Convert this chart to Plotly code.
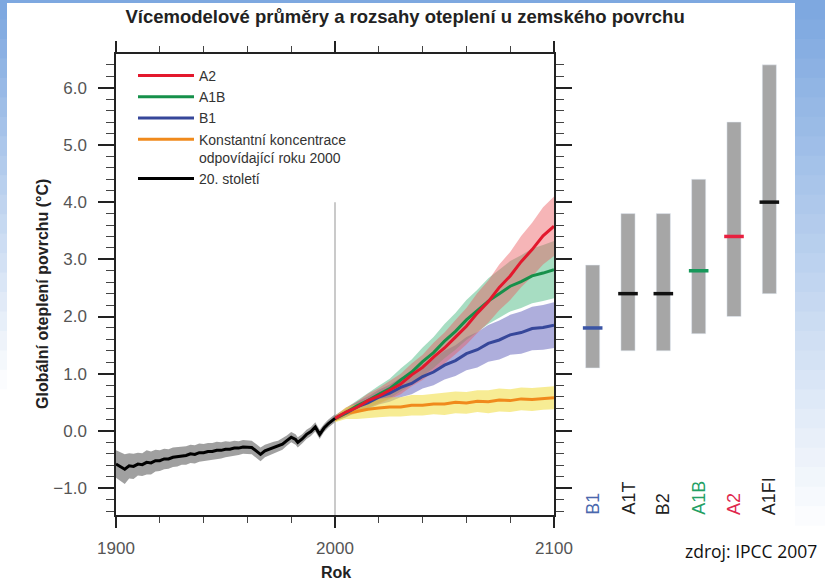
import plotly.graph_objects as go

# ---- data -------------------------------------------------------------
HIST_YEARS = [1900, 1902, 1904, 1906, 1908, 1910, 1912, 1914, 1916, 1918,
              1920, 1922, 1924, 1926, 1928, 1930, 1932, 1934, 1936, 1938,
              1940, 1942, 1944, 1946, 1948, 1950, 1952, 1954, 1956, 1958,
              1960, 1962, 1964, 1966, 1968, 1970, 1972, 1974, 1976, 1978,
              1980, 1982, 1983, 1985, 1987, 1989, 1991, 1993, 1995, 1997,
              1999, 2000]
HIST_MEAN = [-0.58, -0.63, -0.67, -0.61, -0.62, -0.58, -0.59, -0.55, -0.56, -0.52,
             -0.52, -0.49, -0.49, -0.46, -0.45, -0.43, -0.43, -0.40, -0.41, -0.38,
             -0.38, -0.36, -0.36, -0.34, -0.34, -0.32, -0.32, -0.30, -0.30, -0.28,
             -0.28, -0.29, -0.35, -0.41, -0.35, -0.32, -0.29, -0.27, -0.23, -0.17,
             -0.11, -0.15, -0.20, -0.14, -0.06, -0.01, 0.07, -0.06, 0.05, 0.13,
             0.19, 0.22]
HIST_SPREAD = [0.24, 0.25, 0.26, 0.22, 0.22, 0.20, 0.20, 0.21, 0.20, 0.19,
               0.18, 0.18, 0.17, 0.17, 0.17, 0.16, 0.16, 0.16, 0.16, 0.16,
               0.15, 0.15, 0.15, 0.15, 0.14, 0.14, 0.13, 0.13, 0.12, 0.12,
               0.12, 0.12, 0.12, 0.12, 0.11, 0.11, 0.10, 0.10, 0.10, 0.09,
               0.09, 0.09, 0.09, 0.08, 0.08, 0.08, 0.08, 0.08, 0.07, 0.07,
               0.07, 0.07]

FUT_YEARS = [2000, 2005, 2010, 2015, 2020, 2025, 2030, 2035, 2040, 2045, 2050,
             2055, 2060, 2065, 2070, 2075, 2080, 2085, 2090, 2095, 2100]
A2_MEAN = [0.22, 0.33, 0.41, 0.53, 0.61, 0.71, 0.82, 0.98, 1.11, 1.29, 1.45,
           1.64, 1.83, 2.06, 2.26, 2.51, 2.71, 2.96, 3.17, 3.41, 3.58]
A2_SPREAD = [0.05, 0.08, 0.10, 0.12, 0.14, 0.16, 0.18, 0.20, 0.22, 0.25, 0.27,
             0.30, 0.32, 0.35, 0.37, 0.40, 0.42, 0.45, 0.47, 0.50, 0.52]
A1B_MEAN = [0.22, 0.32, 0.44, 0.53, 0.64, 0.74, 0.89, 1.03, 1.21, 1.37, 1.57,
            1.74, 1.94, 2.10, 2.27, 2.40, 2.53, 2.61, 2.71, 2.76, 2.82]
A1B_SPREAD = [0.05, 0.08, 0.10, 0.13, 0.15, 0.17, 0.20, 0.22, 0.25, 0.27, 0.30,
              0.32, 0.35, 0.37, 0.40, 0.42, 0.44, 0.46, 0.48, 0.49, 0.50]
B1_MEAN = [0.22, 0.31, 0.42, 0.49, 0.59, 0.66, 0.76, 0.83, 0.95, 1.03, 1.15,
           1.23, 1.35, 1.42, 1.53, 1.59, 1.68, 1.72, 1.79, 1.81, 1.85]
B1_SPREAD = [0.05, 0.07, 0.09, 0.11, 0.13, 0.15, 0.17, 0.19, 0.21, 0.23, 0.25,
             0.27, 0.29, 0.31, 0.32, 0.34, 0.35, 0.37, 0.38, 0.39, 0.40]
CONST_MEAN = [0.20, 0.31, 0.34, 0.38, 0.40, 0.42, 0.42, 0.45, 0.45, 0.47, 0.47,
              0.50, 0.49, 0.52, 0.51, 0.54, 0.53, 0.56, 0.55, 0.57, 0.58]
CONST_SPREAD = [0.05, 0.10, 0.13, 0.15, 0.16, 0.17, 0.17, 0.18, 0.18, 0.18, 0.19,
                0.19, 0.19, 0.19, 0.20, 0.20, 0.20, 0.20, 0.20, 0.20, 0.20]

SCENARIOS = ["B1", "A1T", "B2", "A1B", "A2", "A1FI"]
BEST = [1.8, 2.4, 2.4, 2.8, 3.4, 4.0]
LOW = [1.1, 1.4, 1.4, 1.7, 2.0, 2.4]
HIGH = [2.9, 3.8, 3.8, 4.4, 5.4, 6.4]
SCEN_COLORS = ["#3b55a5", "#111111", "#111111", "#17985a", "#e8203f", "#111111"]
LABEL_COLORS = ["#4a68ad", "#222222", "#222222", "#23a064", "#e0284e", "#222222"]

# ---- layout geometry (px) ---------------------------------------------
W, H = 825, 584
L, R, T, B = 116, 38, 54, 69
PW, PH = W - L - R, H - T - B


def xp(px):
    return (px - L) / PW


def yp(py):
    return (H - B - py) / PH


FONT = "Liberation Sans, Arial, sans-serif"
RED, GREEN, BLUE, ORANGE = "#e3182d", "#16904a", "#36479a", "#f08a1c"

fig = go.Figure()


def band(x, mean, spread, color):
    lo = [m - s for m, s in zip(mean, spread)]
    hi = [m + s for m, s in zip(mean, spread)]
    fig.add_trace(go.Scatter(x=x, y=lo, mode="lines", line=dict(width=0),
                             showlegend=False, hoverinfo="skip"))
    fig.add_trace(go.Scatter(x=x, y=hi, mode="lines", line=dict(width=0),
                             fill="tonexty", fillcolor=color,
                             showlegend=False, hoverinfo="skip"))


band(HIST_YEARS, HIST_MEAN, HIST_SPREAD, "rgba(150,150,150,0.9)")
band(FUT_YEARS, B1_MEAN, B1_SPREAD, "rgba(120,120,196,0.6)")
band(FUT_YEARS, A1B_MEAN, A1B_SPREAD, "rgba(60,180,120,0.45)")
band(FUT_YEARS, A2_MEAN, A2_SPREAD, "rgba(235,90,95,0.45)")
band(FUT_YEARS, CONST_MEAN, CONST_SPREAD, "rgba(240,220,60,0.55)")

line_specs = [
    ("Konstantní koncentrace<br>odpovídající roku 2000", FUT_YEARS, CONST_MEAN, ORANGE, 4),
    ("B1", FUT_YEARS, B1_MEAN, BLUE, 3),
    ("A1B", FUT_YEARS, A1B_MEAN, GREEN, 2),
    ("A2", FUT_YEARS, A2_MEAN, RED, 1),
    ("20. století", HIST_YEARS, HIST_MEAN, "#000000", 5),
]
for name, xs, ys, col, rank in line_specs:
    fig.add_trace(go.Scatter(x=xs, y=ys, mode="lines", name=name,
                             line=dict(color=col, width=3), legendrank=rank))

# right panel: likely ranges and best estimates
fig.add_trace(go.Bar(x=SCENARIOS, y=[h - l for h, l in zip(HIGH, LOW)], base=LOW,
                     xaxis="x2", yaxis="y", width=0.4, marker_color="#a6a6a6",
                     showlegend=False))
fig.add_trace(go.Scatter(x=SCENARIOS, y=BEST, xaxis="x2", yaxis="y", mode="markers",
                         marker=dict(symbol="line-ew", size=14,
                                     line=dict(width=3.5, color=SCEN_COLORS)),
                         showlegend=False))

# gray divider at 2000
fig.add_shape(type="line", x0=2000, x1=2000, y0=-1.47, y1=4.0, xref="x", yref="y",
              line=dict(color="#b8b8b8", width=1.5), layer="below")

# slide background strips (blue fading to white)
steps = 30
for i in range(steps):
    y0 = H * i / steps
    y1 = H * (i + 1) / steps + 2
    for x0, x1, fade in [(0, 7, 380), (795, W, 520)]:
        t = min(1.0, y0 / fade)
        c = tuple(int(a + (255 - a) * t) for a in (126, 168, 224))
        fig.add_shape(type="rect", xref="paper", yref="paper",
                      x0=xp(x0), x1=xp(x1), y0=yp(y1), y1=yp(y0),
                      fillcolor="rgb(%d,%d,%d)" % c, line=dict(width=0), layer="below")
fig.add_shape(type="rect", xref="paper", yref="paper", x0=xp(0), x1=xp(W),
              y0=yp(3), y1=yp(0), fillcolor="rgb(126,168,224)",
              line=dict(width=0), layer="below")

annotations = [
    dict(text="<b>Globální oteplení povrchu (°C)</b>", x=xp(42), y=yp(294),
         xref="paper", yref="paper", xanchor="center", yanchor="middle",
         textangle=-90, showarrow=False,
         font=dict(size=16, color="#222", family=FONT)),
    dict(text="<b>Rok</b>", x=xp(336), y=yp(572), xref="paper", yref="paper",
         xanchor="center", yanchor="middle", showarrow=False,
         font=dict(size=16, color="#222", family=FONT)),
    dict(text="zdroj: IPCC 2007", x=xp(751), y=yp(551), xref="paper", yref="paper",
         xanchor="center", yanchor="middle", showarrow=False,
         font=dict(size=17.5, color="#111", family="Open Sans, sans-serif")),
]
for name, col in zip(SCENARIOS, LABEL_COLORS):
    annotations.append(dict(text=name, x=name, xref="x2", y=yp(517), yref="paper",
                            yanchor="bottom", textangle=-90, showarrow=False,
                            font=dict(size=18, color=col, family=FONT)))

fig.update_layout(
    width=W, height=H,
    margin=dict(l=L, r=R, t=T, b=B),
    paper_bgcolor="white", plot_bgcolor="white",
    font=dict(family=FONT, color="#444"),
    title=dict(text="<b>Vícemodelové průměry a rozsahy oteplení u zemského povrchu</b>",
               x=0.491, xanchor="center", y=1 - 17 / H, yanchor="middle",
               font=dict(size=18.5, color="#222", family=FONT)),
    showlegend=True,
    legend=dict(x=xp(133), y=yp(60), xanchor="left", yanchor="top",
                bgcolor="rgba(0,0,0,0)", font=dict(size=14, color="#333"),
                valign="top", itemwidth=56, tracegroupgap=0, traceorder="normal"),
    xaxis=dict(domain=[0, xp(554)], range=[1900, 2100], showgrid=False, zeroline=False,
               showline=True, linecolor="#222", linewidth=1.5, mirror="ticks",
               ticks="outside", ticklen=11, tickwidth=1.5, tickcolor="#222",
               ticklabelstandoff=6,
               tickvals=[1900, 2000, 2100], tickfont=dict(size=17, color="#555"),
               minor=dict(dtick=20, tick0=1900, ticks="outside", ticklen=6,
                          tickcolor="#444", tickwidth=1)),
    yaxis=dict(range=[-1.47, 6.59], showgrid=False, zeroline=False,
               showline=True, linecolor="#222", linewidth=1.5, mirror="ticks",
               ticks="outside", ticklen=16, tickwidth=1.5, tickcolor="#222",
               ticklabelstandoff=8,
               tickvals=[-1, 0, 1, 2, 3, 4, 5, 6], tickformat=".1f",
               tickfont=dict(size=17, color="#555"),
               minor=dict(dtick=0.2, ticks="outside", ticklen=8,
                          tickcolor="#444", tickwidth=1)),
    xaxis2=dict(domain=[xp(575), 1.0], range=[-0.5, 5.5], anchor="y",
                showgrid=False, zeroline=False, showline=False,
                showticklabels=False, ticks="", type="category",
                categoryorder="array", categoryarray=SCENARIOS),
    annotations=annotations,
    bargap=0.6,
)

fig.write_html("out.html", config={"displayModeBar": False},
               post_script="document.body.style.margin='0';")
